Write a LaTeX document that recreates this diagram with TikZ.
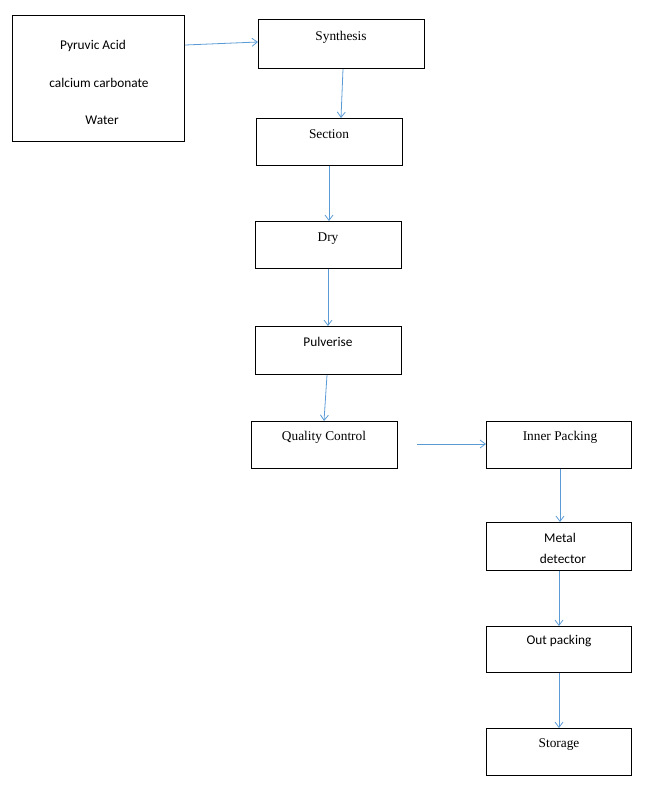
\documentclass[tikz,border=0pt]{standalone}
\usepackage{fontspec}
\setmainfont{Liberation Serif}
\newfontfamily\carfont{Carlito}
\usetikzlibrary{arrows.meta}
\begin{document}
\begin{tikzpicture}[x=0.75pt,y=-0.75pt,
  box/.style={draw=black,line width=0.6pt,inner sep=0pt},
  lbl/.style={inner sep=0pt,font=\fontsize{10}{12}\selectfont},
  sans/.style={lbl,font=\carfont\fontsize{10}{12}\selectfont},
  arr/.style={draw={rgb,255:red,91;green,155;blue,213},line width=0.6pt,-{Straight Barb[length=4pt,width=6pt]}}]
\useasboundingbox (0,0) rectangle (648,790);
\def\bx#1#2#3#4{\node[box,minimum width=#3*0.75pt-0.6pt,minimum height=#4*0.75pt-0.6pt,anchor=north west] (#1) at (#2) {};}
\bx{in}{12,15}{173}{127}
\bx{syn}{258,19}{167}{50}
\bx{sec}{256,118}{147}{48}
\bx{dry}{255,221}{147}{48}
\bx{pul}{255,326}{147}{49}
\bx{qc}{251,421}{147}{48}
\bx{ip}{486,421}{146}{48}
\bx{md}{486,522}{146}{49}
\bx{op}{486,626}{146}{47}
\bx{st}{486,728}{146}{48}
\node[sans] (t1) at (93,46) {Pyruvic Acid};
\node[sans] (t2) at (99,83) {calcium carbonate};
\node[sans] (t3) at (102,120) {Water};
\node[lbl] (t4) at (341,37) {Synthesis};
\node[lbl] (t5) at (329,134) {Section};
\node[lbl] (t6) at (328,239) {Dry};
\node[sans] (t7) at (328,342) {Pulverise};
\node[lbl] (t8) at (324,437) {Quality Control};
\node[lbl] (t9) at (560,437) {Inner Packing};
\node[sans] (t10) at (560,538) {Metal};
\node[sans] (t11) at (563,559) {detector};
\node[sans] (t12) at (559,641) {Out packing};
\node[lbl] (t13) at (559,745) {Storage};
\coordinate (qcr) at (417,444);
\draw[arr] (in.east |- 0,45) -- (syn.west |- 0,42);
\draw[arr] (343,69) -- (sec.north -| 341,0);
\draw[arr] (sec.south -| 329,0) -- (dry.north -| 329,0);
\draw[arr] (dry.south -| 328,0) -- (pul.north -| 328,0);
\draw[arr] (pul.south -| 327,0) -- (qc.north -| 324,0);
\draw[arr] (qcr) -- (ip.west |- qcr);
\draw[arr] (ip.south -| 560,0) -- (md.north -| 560,0);
\draw[arr] (md.south -| 559,0) -- (op.north -| 559,0);
\draw[arr] (op.south -| 559,0) -- (st.north -| 559,0);
\end{tikzpicture}
\end{document}
